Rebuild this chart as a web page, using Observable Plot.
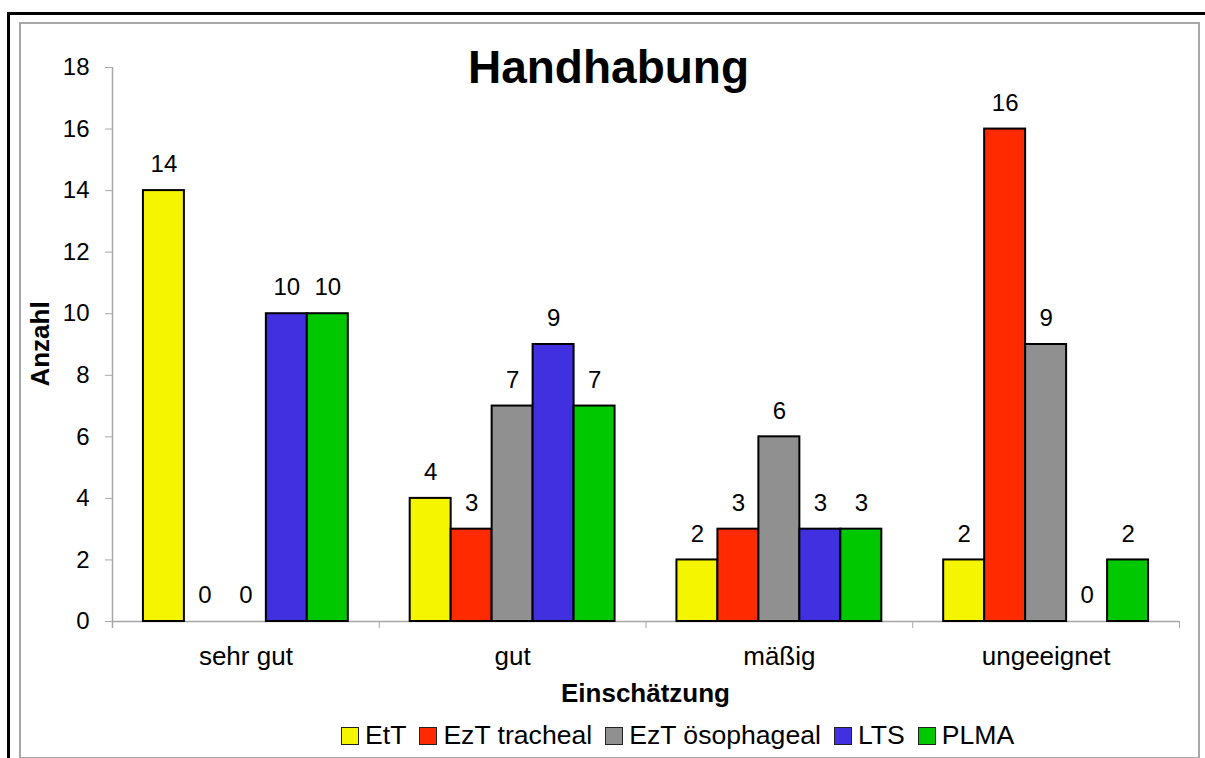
<!DOCTYPE html>
<html>
<head>
<meta charset="utf-8">
<script src="https://cdn.jsdelivr.net/npm/d3@7"></script>
<script src="https://cdn.jsdelivr.net/npm/@observablehq/plot@0.6"></script>
<style>
  body { margin: 0; background: #fff; font-family: Arial, "Liberation Sans", sans-serif; }
  #wrap { position: relative; width: 1205px; height: 758px; overflow: hidden; background: #fff; }
  #outer { position: absolute; left: 7px; top: 12px; width: 1400px; height: 900px;
           border-top: 3px solid #000; border-left: 3px solid #000; }
  #inner { position: absolute; left: 19px; top: 22px; width: 1177px; height: 733px;
           border: 2px solid #a8a8a8; }
  #chart { position: absolute; left: 0; top: 0; }
  .title { position: absolute; left: 19px; width: 1179px; top: 44px; text-align: center;
           font-size: 46px; line-height: 46px; font-weight: bold; color: #000; }
  .xlab { position: absolute; left: 112px; width: 1067px; top: 680px; text-align: center;
          font-size: 26px; line-height: 26px; font-weight: bold; color: #000; }
  .ylab { position: absolute; left: 40px; top: 344px; transform: translate(-50%, -50%) rotate(-90deg);
          font-size: 26px; line-height: 26px; font-weight: bold; color: #000; white-space: nowrap; }
  #legend { position: absolute; left: 341px; top: 722px; height: 27px; display: flex; align-items: center;
            font-size: 26.6px; line-height: 27px; color: #000; white-space: nowrap; }
  .item { display: flex; align-items: center; margin-right: 13px; }
  .sw { width: 18px; height: 18px; box-sizing: border-box; border: 1px solid #222; margin-right: 6px; }
</style>
</head>
<body>
<div id="wrap">
  <div id="outer"></div>
  <div id="inner"></div>
  <div id="chart"></div>
  <div class="title" id="title"></div>
  <div class="ylab" id="ylab"></div>
  <div class="xlab" id="xlab"></div>
  <div id="legend"></div>
</div>
<script>
// ---- data ----
const title = "Handhabung";
const xLabel = "Einschätzung";
const yLabel = "Anzahl";
const categories = ["sehr gut", "gut", "mäßig", "ungeeignet"];
const series = ["EtT", "EzT tracheal", "EzT ösophageal", "LTS", "PLMA"];
const colors = ["#f5f500", "#ff2a00", "#909090", "#4030e0", "#00c800"];
const EtT = [14, 4, 2, 2];
const EzT_tracheal = [0, 3, 3, 16];
const EzT_oesophageal = [0, 7, 6, 9];
const LTS = [10, 9, 3, 0];
const PLMA = [10, 7, 3, 2];
const yTicks = [0, 2, 4, 6, 8, 10, 12, 14, 16, 18];

const values = [EtT, EzT_tracheal, EzT_oesophageal, LTS, PLMA];
const data = [];
categories.forEach((c, i) => {
  series.forEach((s, j) => data.push({category: c, series: s, value: values[j][i]}));
});

// ---- layout ----
const W = 1205, H = 758, mL = 112, mR = 26, mT = 67, mB = 137;
const bw = (W - mL - mR) / categories.length;
const axisGray = "#a6a6a6";
const font = "Arial, 'Liberation Sans', sans-serif";

const chart = Plot.plot({
  width: W, height: H,
  marginLeft: mL, marginRight: mR, marginTop: mT, marginBottom: mB,
  style: {fontFamily: font, color: "#000", background: "transparent", overflow: "visible"},
  fx: {domain: categories, padding: 0, round: false, label: null},
  x: {domain: series, paddingInner: 0, paddingOuter: 0.755, round: false, axis: null},
  y: {domain: [0, 18], label: null},
  color: {domain: series, range: colors},
  marks: [
    Plot.ruleY([0], {stroke: axisGray, strokeWidth: 1.5}),
    Plot.gridFx({ticks: [categories[0]], dx: -bw / 2, stroke: axisGray, strokeOpacity: 1, strokeWidth: 1.5, insetBottom: -7}),
    Plot.axisY({ticks: yTicks, tickSize: 7, tickPadding: 16, stroke: axisGray, fill: "#000", fontSize: 24, label: null}),
    Plot.axisFx({anchor: "bottom", tickSize: 0, tickPadding: 25, fontSize: 26, fill: "#000", label: null}),
    Plot.axisFx({anchor: "bottom", tickSize: 7, stroke: axisGray, fill: "none", dx: -bw / 2, label: null}),
    Plot.axisFx({anchor: "bottom", ticks: [categories[categories.length - 1]], tickSize: 7, stroke: axisGray, fill: "none", dx: bw / 2, label: null}),
    Plot.barY(data.filter(d => d.value > 0), {
      fx: "category", x: "series", y: "value", fill: "series", stroke: "#000", strokeWidth: 2
    }),
    Plot.text(data, {
      fx: "category", x: "series", y: "value", text: d => String(d.value),
      dy: -26, fontSize: 24, fill: "#000"
    })
  ]
});
document.getElementById("chart").appendChild(chart);

document.getElementById("title").textContent = title;
document.getElementById("xlab").textContent = xLabel;
document.getElementById("ylab").textContent = yLabel;

const legend = document.getElementById("legend");
series.forEach((s, j) => {
  const item = document.createElement("div");
  item.className = "item";
  const sw = document.createElement("div");
  sw.className = "sw";
  sw.style.background = colors[j];
  const t = document.createElement("span");
  t.textContent = s;
  item.appendChild(sw);
  item.appendChild(t);
  legend.appendChild(item);
});
</script>
</body>
</html>
